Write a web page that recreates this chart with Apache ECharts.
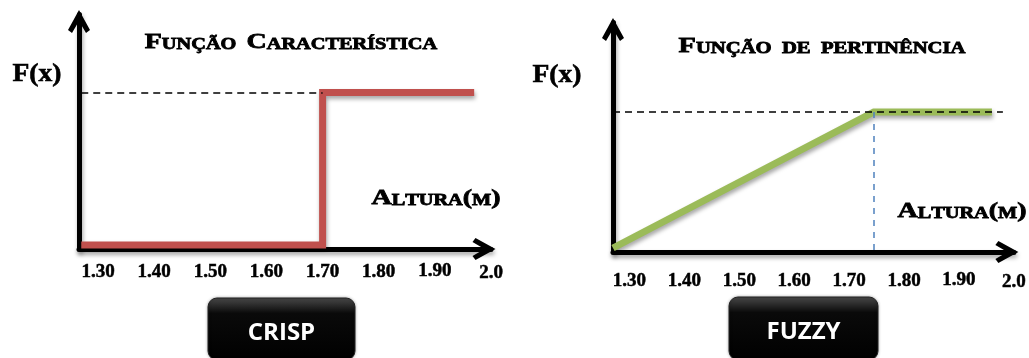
<!DOCTYPE html>
<html>
<head>
<meta charset="utf-8">
<script src="https://cdn.jsdelivr.net/npm/echarts@6/dist/echarts.min.js"></script>
<style>
html,body{margin:0;padding:0;background:#fff;}
#chart{width:1029px;height:358px;}
</style>
</head>
<body>
<div id="chart"></div>
<script>
// ---- data ----
const tickValues = [1.3, 1.4, 1.5, 1.6, 1.7, 1.8, 1.9, 2.0];
const tickLabels = ['1.30', '1.40', '1.50', '1.60', '1.70', '1.80', '1.90', '2.0'];
const crispX = [1.27, 1.70, 1.70, 1.97];
const crispY = [0, 0, 1, 1];
const fuzzyX = [1.27, 1.745, 1.96];
const fuzzyY = [0, 1, 1];
const crispGuide = [1.27, 1.70];      // dashed level at F(x)=1
const fuzzyGuide = [1.27, 1.98];
const fuzzyKnee = 1.745;             // dashed vertical
const titles = ['Função Característica', 'Função de pertinência'];
const axisNameX = 'Altura(m)';
const axisNameY = 'F(x)';
const buttons = ['CRISP', 'FUZZY'];

const serif = '"Liberation Serif", "DejaVu Serif", serif';
const chevron = 'path://M11,0 L22,20 L18,23 L11,11 L4,23 L0,20 Z';

function pair(xs, ys) { return xs.map((x, i) => [x, ys[i]]); }
function fmt(v) {
  let best = 0;
  tickValues.forEach((t, i) => { if (Math.abs(t - v) < Math.abs(tickValues[best] - v)) best = i; });
  const lab = tickLabels[best];
  if (best === 6) return '{u|' + lab + '}';
  if (best === 7) return '{d|' + lab + '}';
  return '{n|' + lab + '}';
}

const axisShadow = {color: '#000', width: 5, shadowColor: 'rgba(0,0,0,0.35)', shadowBlur: 4, shadowOffsetX: 1, shadowOffsetY: 3};
const lblFont = {color: '#000', fontFamily: serif, fontWeight: 'bold', fontSize: 19, textBorderColor: '#000', textBorderWidth: 0.5};

function xAxis(grid, min, margin) {
  return {
    type: 'value', gridIndex: grid, min: min, max: 2.0,
    splitLine: {show: false},
    axisLine: {show: true, onZero: false, symbol: ['none', chevron], symbolSize: [22, 23], symbolOffset: [0, -7], lineStyle: axisShadow},
    axisTick: {show: false},
    axisLabel: Object.assign({show: true, customValues: tickValues, formatter: fmt, margin: margin,
      rich: {
        n: Object.assign({padding: [2, 0, 0, 0]}, lblFont),
        u: Object.assign({padding: [1, 0, 0, 0]}, lblFont),
        d: Object.assign({padding: [3, 0, 0, 0]}, lblFont)
      }}, lblFont)
  };
}
function yAxis(grid, min, max) {
  return {
    type: 'value', gridIndex: grid, min: min, max: max,
    splitLine: {show: false},
    axisLine: {show: true, onZero: false, symbol: ['none', chevron], symbolSize: [22, 23], symbolOffset: [0, -7], lineStyle: axisShadow},
    axisTick: {show: false},
    axisLabel: {show: false}
  };
}

const lineShadow = {shadowColor: 'rgba(0,0,0,0.35)', shadowBlur: 4, shadowOffsetX: 1, shadowOffsetY: 3};

function smallCaps(text, big, small) {
  // small caps: capitals and parentheses big, other letters uppercase and smaller
  let out = '';
  for (const ch of text) {
    if (ch === ' ') { out += '{s|  }'; continue; }
    if (ch === '(' || ch === ')' || (ch === ch.toUpperCase() && ch !== ch.toLowerCase())) out += '{b|' + ch + '}';
    else out += '{s|' + ch.toUpperCase() + '}';
  }
  const common = {fontFamily: serif, fontWeight: 'bold', fill: '#000', verticalAlign: 'bottom', lineHeight: big,
                  stroke: '#000', lineWidth: 0.8};
  return {
    text: out,
    rich: {
      b: Object.assign({fontSize: big}, common),
      s: Object.assign({fontSize: small}, common)
    }
  };
}

function textEl(x, y, sc, sx) {
  return {type: 'text', x: x, y: y, scaleX: sx, style: {text: sc.text, rich: sc.rich, align: 'center', verticalAlign: 'middle', fill: '#000'}};
}

function button(x, y, w, h, label) {
  return {
    type: 'group', children: [
      {type: 'rect', shape: {x: x, y: y, width: w, height: h, r: 9},
       style: {fill: {type: 'linear', x: 0, y: 0, x2: 0, y2: 1, colorStops: [
         {offset: 0, color: '#4a4a4a'}, {offset: 0.25, color: '#0a0a0a'}, {offset: 1, color: '#000'}]},
         stroke: '#222', lineWidth: 1, shadowColor: 'rgba(0,0,0,0.3)', shadowBlur: 3}},
      {type: 'text', x: x + w / 2, y: y + 35, style: {text: label, fill: '#fff', font: 'bold 24px "Open Sans", "Noto Sans", sans-serif', align: 'center', verticalAlign: 'middle'}}
    ]
  };
}

const option = {
  animation: false,
  backgroundColor: '#fff',
  grid: [
    {left: 79, top: 14.5, width: 412, height: 234.5},
    {left: 613, top: 22.5, width: 405, height: 229.5}
  ],
  xAxis: [xAxis(0, 1.266, 12), xAxis(1, 1.27, 18)],
  yAxis: [yAxis(0, -0.0262, 1.511), yAxis(1, -0.0294, 1.658)],
  series: [
    {type: 'line', xAxisIndex: 0, yAxisIndex: 0, z: 1, data: [], symbol: 'none',
     markLine: {silent: true, symbol: ['none', 'none'], label: {show: false},
       lineStyle: {color: '#000', width: 1.5, type: [7, 5]},
       data: [[{coord: [crispGuide[0], 1]}, {coord: [crispGuide[1], 1]}]]}},
    {type: 'line', xAxisIndex: 0, yAxisIndex: 0, z: 3, data: pair(crispX, crispY), symbol: 'none',
     lineStyle: Object.assign({color: '#C0504D', width: 7, cap: 'butt', join: 'miter'}, lineShadow)},
    {type: 'line', xAxisIndex: 1, yAxisIndex: 1, z: 1, data: [], symbol: 'none',
     markLine: {silent: true, symbol: ['none', 'none'], label: {show: false},
       data: [
         [{coord: [fuzzyGuide[0], 1], lineStyle: {color: '#000', width: 1.5, type: [7, 5]}}, {coord: [fuzzyGuide[1], 1]}],
         [{coord: [fuzzyKnee, 1], lineStyle: {color: '#4F81BD', width: 1.5, type: [6, 6]}}, {coord: [fuzzyKnee, -0.0294]}]
       ]}},
    {type: 'line', xAxisIndex: 1, yAxisIndex: 1, z: 3, data: pair(fuzzyX, fuzzyY), symbol: 'none',
     lineStyle: Object.assign({color: '#9BBB59', width: 7, cap: 'butt', join: 'miter'}, lineShadow)}
  ],
  graphic: [
    textEl(291, 42, smallCaps(titles[0], 22, 16), 1.27),
    textEl(822, 46, smallCaps(titles[1], 22, 16), 1.29),
    {type: 'text', x: 37, y: 74, scaleX: 1.06, style: {text: axisNameY, fill: '#000', stroke: '#000', lineWidth: 0.6, font: 'bold 26px ' + serif, align: 'center', verticalAlign: 'middle'}},
    {type: 'text', x: 557, y: 75, scaleX: 1.06, style: {text: axisNameY, fill: '#000', stroke: '#000', lineWidth: 0.6, font: 'bold 26px ' + serif, align: 'center', verticalAlign: 'middle'}},
    textEl(436, 198, smallCaps(axisNameX, 22, 16), 1.27),
    textEl(962, 211, smallCaps(axisNameX, 22, 16), 1.27),
    button(208, 298, 147, 62, buttons[0]),
    button(729, 297, 149, 63, buttons[1])
  ]
};

const chart = echarts.init(document.getElementById('chart'), null, {renderer: 'canvas'});
chart.setOption(option);
</script>
</body>
</html>
